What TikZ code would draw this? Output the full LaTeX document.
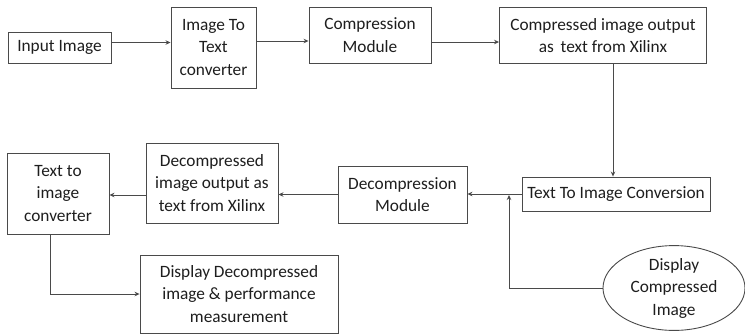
\documentclass[tikz,border=0pt]{standalone}
\usepackage{fontspec}
\setmainfont{Carlito}
\usetikzlibrary{arrows.meta,shapes.geometric}
\definecolor{edge}{HTML}{4A4A4A}
\definecolor{ink}{HTML}{1E1E1E}
\tikzset{
  block/.style={draw=edge, line width=0.9pt, fill=white, text=ink, align=center,
    inner sep=1pt, font=\fontsize{17.3}{22.5}\selectfont},
  oval/.style={block, ellipse},
  arr/.style={draw=edge, line width=0.9pt, -{Stealth[length=5pt,width=4.5pt]}}
}
\begin{document}
\begin{tikzpicture}[x=1pt,y=-1pt]
  \useasboundingbox[fill=white] (0,0) rectangle (745,335);

  % top row
  \node[block, minimum width=103pt, minimum height=31pt] (in)  at (59.5,47.5) {Input Image};
  \node[block, minimum width=85pt,  minimum height=81pt] (itt) at (213.5,47.5) {Image To\\Text\\converter};
  \node[block, minimum width=122pt, minimum height=56pt] (cm)  at (370,35) {Compression\\Module};
  \node[block, minimum width=207pt, minimum height=56pt] (cio) at (603,35.5) {Compressed image output\\as\, text from Xilinx};

  % middle row
  \node[block, minimum width=188pt, minimum height=34pt] (tti) at (616,194) {Text To Image Conversion};
  \node[block, minimum width=129pt, minimum height=57pt] (dm)  at (402.5,194.5) {Decompression\\Module};
  \node[block, minimum width=132pt, minimum height=80pt] (dio) at (212,183) {Decompressed\\image output as\\text from Xilinx};
  \node[block, minimum width=102pt, minimum height=81pt] (tic) at (58,193.5) {Text to\\image\\converter};

  % bottom row
  \node[block, minimum width=198pt, minimum height=78pt] (ddp) at (239,294) {Display Decompressed\\image \& performance\\measurement};
  \node[oval, minimum width=142pt, minimum height=82pt, inner sep=0pt] (el) at (674,288) {Display\\Compressed\\Image};

  \coordinate (jt) at (509,195);

  % connectors
  \draw[arr] ([yshift=5pt]in.east) -- ([yshift=5pt]in.east -| itt.west);
  \draw[arr] ([yshift=6.5pt]itt.east) -- ([yshift=6.5pt]itt.east -| cm.west);
  \draw[arr] ([yshift=-7pt]cm.east) -- ([yshift=-7pt]cm.east -| cio.west);
  \draw[arr] ([xshift=10pt]cio.south) -- ([xshift=10pt]cio.south |- tti.north);
  \draw[arr] (tti.west) -- (tti.west -| dm.east);
  \draw[arr] (dm.west) -- (dm.west -| dio.east);
  \draw[arr] ([yshift=-12pt]dio.west) -- ([yshift=-12pt]dio.west -| tic.east);
  \draw[arr] ([xshift=-8pt]tic.south) |- (ddp.west);
  \draw[arr] (el.west) -| (jt);
\end{tikzpicture}
\end{document}
